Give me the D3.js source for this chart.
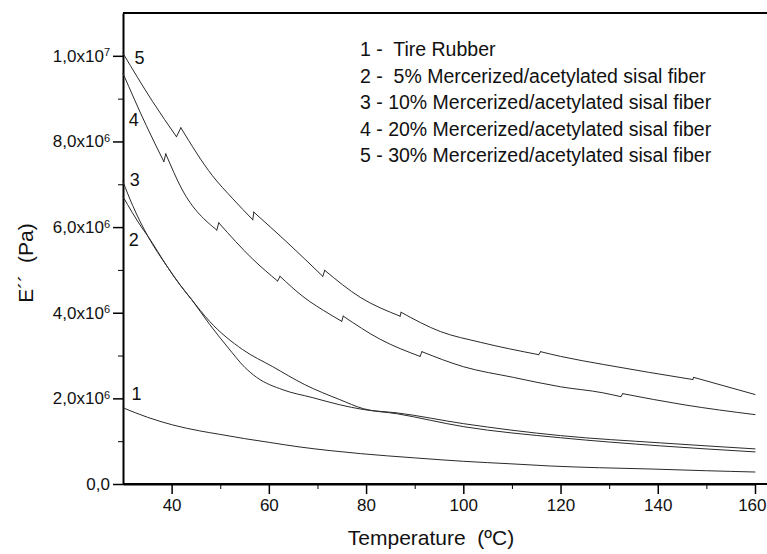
<!DOCTYPE html>
<html>
<head>
<meta charset="utf-8">
<script src="https://cdn.jsdelivr.net/npm/d3@7"></script>
<style>
  body { margin: 0; background: #fff; }
  svg text { font-family: "Liberation Sans", Arial, sans-serif; fill: #111; }
</style>
</head>
<body>
<svg id="chart" width="767" height="554"></svg>
<script>
"use strict";

// temperatures (°C) and loss modulus (10^6 Pa)
const t1 = [30, 35, 40.2, 45.8, 49.9, 55, 60.2, 66, 72.6, 78.8, 90, 100, 110, 118, 128, 138.6, 150, 160];
const e1 = [1.78, 1.56, 1.38, 1.24, 1.16, 1.06, 0.97, 0.87, 0.78, 0.71, 0.61, 0.53, 0.47, 0.42, 0.38, 0.35, 0.31, 0.28];

const t2 = [30, 33.8, 35.1, 39.2, 41.6, 44.1, 47.8, 54.6, 60.8, 67.4, 74.6, 79.4, 86.4, 100, 120, 140.6, 160];
const e2 = [6.71, 6.0, 5.79, 5.06, 4.67, 4.31, 3.80, 3.14, 2.74, 2.32, 1.97, 1.76, 1.64, 1.34, 1.08, 0.89, 0.75];

const t3 = [30, 32, 35.1, 39.2, 41.6, 44.1, 47.8, 51.5, 55.1, 57.5, 62.9, 68.9, 74.6, 79.4, 86.4, 100, 120, 140.6, 160];
const e3 = [7.06, 6.5, 5.79, 5.06, 4.67, 4.31, 3.73, 3.2, 2.72, 2.49, 2.20, 2.02, 1.85, 1.74, 1.66, 1.41, 1.13, 0.96, 0.82];

const t4 = [30, 34.8, 38.4, 38.8, 42.1, 49.3, 49.7, 56.7, 61.8, 62.3, 67, 72.6, 75.0, 75.3, 82.9, 91.1, 91.5, 100, 110.3, 120, 128.7, 132.4, 132.8, 145.4, 160];
const e4 = [9.59, 8.37, 7.53, 7.71, 6.89, 5.93, 6.10, 5.25, 4.74, 4.85, 4.38, 3.96, 3.80, 3.92, 3.38, 2.98, 3.09, 2.74, 2.49, 2.27, 2.13, 2.04, 2.11, 1.85, 1.62];

const t5 = [30, 36.1, 41.0, 41.9, 48.4, 52.6, 56.7, 56.9, 63.7, 71.1, 71.5, 78.8, 87.0, 87.2, 95.3, 103.5, 115.5, 115.9, 120, 128.9, 147.2, 147.4, 160];
const e5 = [10.06, 8.93, 8.11, 8.32, 7.20, 6.66, 6.17, 6.35, 5.65, 4.85, 4.99, 4.36, 3.92, 4.01, 3.56, 3.31, 3.02, 3.09, 2.98, 2.79, 2.44, 2.49, 2.09];

// curve numbers and where they are written (°C, 10^6 Pa)
const curveNames = ['1', '2', '3', '4', '5'];
const labelT = [32.8, 32.2, 32.4, 32.2, 33.4];
const labelE = [1.97, 5.56, 6.96, 8.35, 9.82];

const legendLabels = [
  '1 -  Tire Rubber',
  '2 -  5% Mercerized/acetylated sisal fiber',
  '3 - 10% Mercerized/acetylated sisal fiber',
  '4 - 20% Mercerized/acetylated sisal fiber',
  '5 - 30% Mercerized/acetylated sisal fiber'
];

const xMajor = [40, 60, 80, 100, 120, 140, 160];
const xMinor = [50, 70, 90, 110, 130, 150];
const yMajor = [0, 2e6, 4e6, 6e6, 8e6, 1e7];
const yMinor = [1e6, 3e6, 5e6, 7e6, 9e6];

const series = [
  { name: '1', t: t1, e: e1 },
  { name: '2', t: t2, e: e2 },
  { name: '3', t: t3, e: e3 },
  { name: '4', t: t4, e: e4 },
  { name: '5', t: t5, e: e5 }
].map( (s) => ({ name: s.name, values: s.t.map( (t, i) => ({ t: t, e: s.e[i] * 1e6 }) ) }) );

const W = 767, H = 554;
const margin = { top: 13, right: 12, bottom: 70, left: 123 };
const width  = W - margin.left - margin.right,
      height = H - margin.top - margin.bottom;

const x = d3.scaleLinear().domain([30, 160]).range([0, width]);
const y = d3.scaleLinear().domain([0, 1.1e7]).range([height, 0]);

const svg = d3.select('#chart')
  .append('g')
    .attr('transform', 'translate(' + margin.left + ',' + margin.top + ')');

// frame line on top, running to the edge of the picture
svg.append('line')
    .attr('x1', 0).attr('x2', W - margin.left)
    .attr('y1', 0).attr('y2', 0)
    .attr('stroke', '#000').attr('stroke-width', 2);

// bottom axis runs on to the edge as well
svg.append('line')
    .attr('x1', 0).attr('x2', W - margin.left)
    .attr('y1', height).attr('y2', height)
    .attr('stroke', '#000').attr('stroke-width', 2);

// x minor ticks
svg.append('g')
    .attr('transform', 'translate(0,' + height + ')')
    .call( d3.axisBottom(x).tickValues(xMinor).tickSize(5).tickSizeOuter(0).tickFormat('') )
    .call( (g) => g.select('.domain').remove() );

// x major ticks + labels
const xAxisG = svg.append('g')
    .attr('transform', 'translate(0,' + height + ')')
    .call( d3.axisBottom(x).tickValues(xMajor).tickSize(10).tickSizeOuter(0).tickPadding(5) );
xAxisG.select('.domain').attr('stroke-width', 2);
xAxisG.selectAll('.tick line').attr('stroke-width', 1.5);
xAxisG.selectAll('.tick text')
    .attr('font-size', '17px')
    .attr('font-family', '"Liberation Sans", Arial, sans-serif');
// last label sits on the right edge of the picture; keep it inside
xAxisG.selectAll('.tick text')
    .filter( (d) => d === 160 )
    .attr('text-anchor', 'end')
    .attr('x', W - margin.left - x(160) - 1);

// y minor ticks
svg.append('g')
    .call( d3.axisLeft(y).tickValues(yMinor).tickSize(5).tickSizeOuter(0).tickFormat('') )
    .call( (g) => g.select('.domain').remove() );

// y major ticks, labels like 2,0x10^6
const yAxisG = svg.append('g')
    .call( d3.axisLeft(y).tickValues(yMajor).tickSize(10).tickSizeOuter(0).tickPadding(3) );
yAxisG.select('.domain').attr('stroke-width', 2);
yAxisG.selectAll('.tick line').attr('stroke-width', 1.5);
yAxisG.selectAll('.tick text')
    .attr('font-size', '17px')
    .attr('font-family', '"Liberation Sans", Arial, sans-serif')
    .each( function(d) {
      const txt = d3.select(this).text('');
      if( d === 0 ) {
        txt.text('0,0');
        return;
      }
      const ex = Math.floor( Math.log10(d) ),
            mant = (d / Math.pow(10, ex)).toFixed(1).replace('.', ',');
      txt.append('tspan').text(mant + 'x10');
      txt.append('tspan').attr('dy', '-0.5em').attr('font-size', '11px').text(ex);
    });

// split each curve into falling runs (drawn smooth) and the small
// upward jumps between them (drawn straight)
function pieces( values ) {
  const out = [];
  let run = [ values[0] ];
  for( let i=1; i<values.length; i++ ) {
    if( values[i].e > values[i-1].e ) {
      out.push( { smooth: true, pts: run } );
      out.push( { smooth: false, pts: [ values[i-1], values[i] ] } );
      run = [ values[i] ];
    } else {
      run.push( values[i] );
    }
  }
  out.push( { smooth: true, pts: run } );
  return out;
}

const smoothLine = d3.line()
    .curve( d3.curveMonotoneX )
    .x( (d) => x(d.t) )
    .y( (d) => y(d.e) );
const straightLine = d3.line()
    .x( (d) => x(d.t) )
    .y( (d) => y(d.e) );

const groups = svg.selectAll('.curve')
    .data(series)
  .enter().append('g')
    .attr('class', 'curve');

groups.selectAll('path')
    .data( (d) => pieces(d.values) )
  .enter().append('path')
    .attr('d', (p) => p.smooth ? smoothLine(p.pts) : straightLine(p.pts) )
    .attr('fill', 'none')
    .attr('stroke', '#2a2a2a')
    .attr('stroke-width', 1)
    .attr('stroke-linecap', 'round');

// curve numbers
svg.selectAll('.cnum')
    .data(curveNames)
  .enter().append('text')
    .attr('class', 'cnum')
    .attr('x', (d, i) => x(labelT[i]) )
    .attr('y', (d, i) => y(labelE[i] * 1e6) )
    .attr('text-anchor', 'middle')
    .attr('font-size', '18px')
    .text( (d) => d );

// legend text
svg.selectAll('.leg')
    .data(legendLabels)
  .enter().append('text')
    .attr('class', 'leg')
    .attr('x', 237)
    .attr('y', (d, i) => 43 + i * 26.5 )
    .attr('font-size', '19.5px')
    .style('white-space', 'pre')
    .text( (d) => d );

// axis titles
svg.append('text')
    .attr('x', 308)
    .attr('y', height + 61)
    .attr('text-anchor', 'middle')
    .attr('font-size', '21px')
    .style('white-space', 'pre')
    .text('Temperature  (\u00baC)');

svg.append('text')
    .attr('transform', 'translate(' + (33 - margin.left) + ',' + (263 - margin.top) + ') rotate(-90)')
    .attr('text-anchor', 'middle')
    .attr('font-size', '21px')
    .style('white-space', 'pre')
    .text('E\u00b4\u00b4  (Pa)');
</script>
</body>
</html>
